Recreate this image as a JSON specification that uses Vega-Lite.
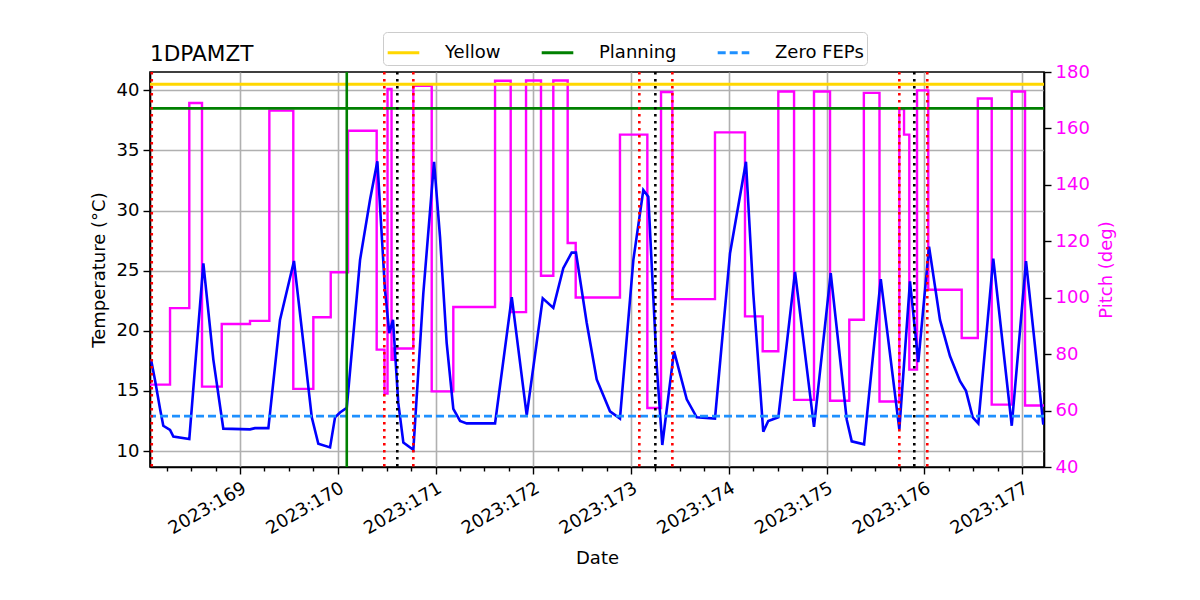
{
  "$schema": "https://vega.github.io/schema/vega-lite/v6.json",
  "autosize": {"type": "none"},
  "padding": {"left": 150, "top": 72, "right": 156, "bottom": 133},
  "width": 894,
  "height": 395,
  "title": {
    "text": "1DPAMZT",
    "anchor": "start",
    "frame": "group",
    "fontSize": 21.6,
    "fontWeight": "normal",
    "font": "DejaVu Sans",
    "color": "black",
    "offset": -34
  },
  "config": {
    "font": "DejaVu Sans",
    "view": {"stroke": "black", "strokeWidth": 1.6},
    "axis": {
      "labelFont": "DejaVu Sans",
      "titleFont": "DejaVu Sans",
      "labelFontSize": 18,
      "titleFontSize": 18,
      "titleFontWeight": "normal",
      "labelColor": "black",
      "titleColor": "black",
      "tickColor": "black",
      "tickWidth": 1.4,
      "tickSize": 7,
      "domainColor": "black",
      "domainWidth": 1.6,
      "gridColor": "#b0b0b0",
      "gridWidth": 1.6
    },
    "legend": {
      "labelFont": "DejaVu Sans",
      "labelFontSize": 18,
      "labelColor": "black"
    }
  },
  "datasets": {
    "temp": [
      {"day": 168.090, "temp": 17.6},
      {"day": 168.130, "temp": 15.9},
      {"day": 168.182, "temp": 13.5},
      {"day": 168.215, "temp": 12.1},
      {"day": 168.284, "temp": 11.75},
      {"day": 168.318, "temp": 11.2},
      {"day": 168.481, "temp": 11.0},
      {"day": 168.625, "temp": 25.6},
      {"day": 168.727, "temp": 17.6},
      {"day": 168.829, "temp": 11.86},
      {"day": 169.102, "temp": 11.8},
      {"day": 169.153, "temp": 11.9},
      {"day": 169.290, "temp": 11.9},
      {"day": 169.409, "temp": 20.9},
      {"day": 169.552, "temp": 25.8},
      {"day": 169.648, "temp": 19.0},
      {"day": 169.734, "temp": 12.8},
      {"day": 169.801, "temp": 10.6},
      {"day": 169.921, "temp": 10.3},
      {"day": 169.972, "temp": 12.8},
      {"day": 170.023, "temp": 13.2},
      {"day": 170.092, "temp": 13.6},
      {"day": 170.228, "temp": 25.9},
      {"day": 170.330, "temp": 30.9},
      {"day": 170.405, "temp": 34.1},
      {"day": 170.483, "temp": 23.4},
      {"day": 170.527, "temp": 19.8},
      {"day": 170.565, "temp": 20.9},
      {"day": 170.619, "temp": 14.0},
      {"day": 170.671, "temp": 10.7},
      {"day": 170.773, "temp": 10.1},
      {"day": 170.875, "temp": 23.1},
      {"day": 170.985, "temp": 34.05},
      {"day": 171.046, "temp": 27.8},
      {"day": 171.114, "temp": 19.0},
      {"day": 171.182, "temp": 13.5},
      {"day": 171.251, "temp": 12.5},
      {"day": 171.319, "temp": 12.3},
      {"day": 171.609, "temp": 12.3},
      {"day": 171.780, "temp": 22.8},
      {"day": 171.933, "temp": 12.96},
      {"day": 172.097, "temp": 22.7},
      {"day": 172.205, "temp": 21.9},
      {"day": 172.307, "temp": 25.2},
      {"day": 172.393, "temp": 26.5},
      {"day": 172.437, "temp": 26.5},
      {"day": 172.547, "temp": 20.65},
      {"day": 172.649, "temp": 15.95},
      {"day": 172.785, "temp": 13.3},
      {"day": 172.887, "temp": 12.7},
      {"day": 173.024, "temp": 25.9},
      {"day": 173.126, "temp": 31.7},
      {"day": 173.177, "temp": 31.15},
      {"day": 173.263, "temp": 17.1},
      {"day": 173.320, "temp": 10.5},
      {"day": 173.440, "temp": 18.3},
      {"day": 173.570, "temp": 14.3},
      {"day": 173.672, "temp": 12.8},
      {"day": 173.859, "temp": 12.7},
      {"day": 174.013, "temp": 26.45},
      {"day": 174.176, "temp": 34.05},
      {"day": 174.251, "temp": 23.1},
      {"day": 174.353, "temp": 11.6},
      {"day": 174.404, "temp": 12.5},
      {"day": 174.507, "temp": 12.8},
      {"day": 174.678, "temp": 24.9},
      {"day": 174.872, "temp": 12.0},
      {"day": 175.043, "temp": 24.8},
      {"day": 175.207, "temp": 12.6},
      {"day": 175.258, "temp": 10.8},
      {"day": 175.384, "temp": 10.56},
      {"day": 175.555, "temp": 24.3},
      {"day": 175.745, "temp": 11.8},
      {"day": 175.854, "temp": 24.1},
      {"day": 175.939, "temp": 17.4},
      {"day": 176.049, "temp": 27.0},
      {"day": 176.161, "temp": 20.9},
      {"day": 176.263, "temp": 17.9},
      {"day": 176.366, "temp": 15.8},
      {"day": 176.427, "temp": 15.0},
      {"day": 176.496, "temp": 12.8},
      {"day": 176.553, "temp": 12.3},
      {"day": 176.706, "temp": 26.0},
      {"day": 176.895, "temp": 12.1},
      {"day": 177.041, "temp": 25.8},
      {"day": 177.218, "temp": 12.2}
    ],
    "pitch": [
      {"day": 168.079, "pitch": 69.2},
      {"day": 168.284, "pitch": 96.3},
      {"day": 168.481, "pitch": 169.0},
      {"day": 168.611, "pitch": 68.5},
      {"day": 168.813, "pitch": 90.7},
      {"day": 169.102, "pitch": 91.8},
      {"day": 169.300, "pitch": 166.3},
      {"day": 169.545, "pitch": 67.7},
      {"day": 169.750, "pitch": 93.1},
      {"day": 169.928, "pitch": 109.0},
      {"day": 170.105, "pitch": 159.2},
      {"day": 170.398, "pitch": 81.6},
      {"day": 170.478, "pitch": 66.0},
      {"day": 170.509, "pitch": 174.0},
      {"day": 170.550, "pitch": 78.0},
      {"day": 170.575, "pitch": 82.0},
      {"day": 170.773, "pitch": 175.1},
      {"day": 170.961, "pitch": 66.8},
      {"day": 171.182, "pitch": 96.7},
      {"day": 171.609, "pitch": 176.9},
      {"day": 171.769, "pitch": 94.9},
      {"day": 171.926, "pitch": 177.0},
      {"day": 172.079, "pitch": 107.8},
      {"day": 172.205, "pitch": 177.0},
      {"day": 172.352, "pitch": 119.4},
      {"day": 172.434, "pitch": 100.1},
      {"day": 172.887, "pitch": 157.8},
      {"day": 173.167, "pitch": 60.9},
      {"day": 173.307, "pitch": 172.9},
      {"day": 173.423, "pitch": 99.5},
      {"day": 173.859, "pitch": 158.6},
      {"day": 174.166, "pitch": 93.4},
      {"day": 174.347, "pitch": 81.0},
      {"day": 174.507, "pitch": 173.1},
      {"day": 174.668, "pitch": 63.8},
      {"day": 174.872, "pitch": 173.1},
      {"day": 175.036, "pitch": 63.5},
      {"day": 175.233, "pitch": 92.2},
      {"day": 175.382, "pitch": 172.6},
      {"day": 175.542, "pitch": 63.2},
      {"day": 175.745, "pitch": 166.9},
      {"day": 175.793, "pitch": 157.8},
      {"day": 175.847, "pitch": 74.5},
      {"day": 175.926, "pitch": 173.5},
      {"day": 176.041, "pitch": 102.8},
      {"day": 176.383, "pitch": 85.7},
      {"day": 176.548, "pitch": 170.6},
      {"day": 176.690, "pitch": 62.1},
      {"day": 176.895, "pitch": 173.1},
      {"day": 177.031, "pitch": 61.8},
      {"day": 177.225, "pitch": 61.8}
    ],
    "limits": [
      {"name": "Yellow", "temp": 40.5},
      {"name": "Planning", "temp": 38.5},
      {"name": "Zero FEPs", "temp": 12.9}
    ],
    "red_events": [
      {"day": 168.097},
      {"day": 170.476},
      {"day": 170.773},
      {"day": 173.085},
      {"day": 173.423},
      {"day": 175.745},
      {"day": 176.031}
    ],
    "black_events": [
      {"day": 170.609},
      {"day": 173.249},
      {"day": 175.898}
    ],
    "green_events": [
      {"day": 170.092}
    ]
  },
  "layer": [
    {
      "data": {"name": "pitch"},
      "mark": {"type": "line", "interpolate": "step-after", "color": "#ff00ff", "strokeWidth": 2.4, "clip": true},
      "encoding": {
        "x": {
          "field": "day",
          "type": "quantitative",
          "scale": {"domain": [168.079, 177.225], "nice": false, "zero": false},
          "axis": {
            "title": "Date",
            "values": [168.25, 168.5, 168.75, 169, 169.25, 169.5, 169.75, 170, 170.25, 170.5, 170.75, 171, 171.25, 171.5, 171.75, 172, 172.25, 172.5, 172.75, 173, 173.25, 173.5, 173.75, 174, 174.25, 174.5, 174.75, 175, 175.25, 175.5, 175.75, 176, 176.25, 176.5, 176.75, 177],
            "tickCount": 100,
            "labelExpr": "datum.value % 1 == 0 ? '2023:' + datum.value : ''",
            "labelAngle": -30,
            "labelAlign": "right",
            "labelBaseline": "top",
            "labelPadding": 5,
            "labelOverlap": false,
            "labelFlush": false,
            "labelBound": false,
            "titlePadding": 12,
            "grid": true,
            "gridOpacity": {"condition": {"test": "datum.value % 1 == 0", "value": 1}, "value": 0},
            "tickSize": {"condition": {"test": "datum.value % 1 == 0", "value": 7}, "value": 4}
          }
        },
        "y": {
          "field": "pitch",
          "type": "quantitative",
          "scale": {"domain": [40, 180], "nice": false, "zero": false},
          "axis": {
            "orient": "right",
            "title": "Pitch (deg)",
            "values": [40, 60, 80, 100, 120, 140, 160, 180],
            "grid": false,
            "labelColor": "#ff00ff",
            "titleColor": "#ff00ff",
            "labelPadding": 4,
            "titlePadding": 8,
            "titleAngle": 270,
            "titleBaseline": "top"
          }
        }
      }
    },
    {
      "layer": [
        {
          "data": {"name": "temp"},
          "mark": {"type": "line", "color": "#0000ff", "strokeWidth": 2.6, "clip": true},
          "encoding": {
            "x": {"field": "day", "type": "quantitative", "scale": {"domain": [168.079, 177.225], "nice": false, "zero": false}},
            "y": {
              "field": "temp",
              "type": "quantitative",
              "scale": {"domain": [8.67, 41.52], "nice": false, "zero": false},
              "axis": {
                "orient": "left",
                "title": "Temperature (°C)",
                "values": [10, 15, 20, 25, 30, 35, 40],
                "grid": true,
                "labelPadding": 4,
                "titlePadding": 8
              }
            }
          }
        },
        {
          "data": {"name": "limits"},
          "mark": {"type": "rule", "strokeWidth": 2.8},
          "encoding": {
            "y": {"field": "temp", "type": "quantitative", "scale": {"domain": [8.67, 41.52], "nice": false, "zero": false}},
            "color": {
              "field": "name",
              "type": "nominal",
              "scale": {"domain": ["Yellow", "Planning", "Zero FEPs"], "range": ["#ffd700", "#008000", "#1e90ff"]},
              "legend": {
                "title": null,
                "orient": "none",
                "legendX": 233,
                "legendY": -40,
                "direction": "horizontal",
                "symbolType": "stroke",
                "symbolSize": 1000,
                "symbolStrokeWidth": 3,
                "labelOffset": 24,
                "columnPadding": 34,
                "padding": 3,
                "strokeColor": "#cccccc",
                "fillColor": "white",
                "cornerRadius": 4
              }
            },
            "strokeDash": {
              "field": "name",
              "type": "nominal",
              "scale": {"domain": ["Yellow", "Planning", "Zero FEPs"], "range": [[1, 0], [1, 0], [8, 4]]}
            }
          }
        },
        {
          "data": {"name": "red_events"},
          "mark": {"type": "rule", "color": "#ff0000", "strokeWidth": 2.6, "strokeDash": [2.6, 4.4]},
          "encoding": {
            "x": {"field": "day", "type": "quantitative", "scale": {"domain": [168.079, 177.225], "nice": false, "zero": false}}
          }
        },
        {
          "data": {"name": "black_events"},
          "mark": {"type": "rule", "color": "#000000", "strokeWidth": 2.6, "strokeDash": [2.6, 4.4]},
          "encoding": {
            "x": {"field": "day", "type": "quantitative", "scale": {"domain": [168.079, 177.225], "nice": false, "zero": false}}
          }
        },
        {
          "data": {"name": "green_events"},
          "mark": {"type": "rule", "color": "#008000", "strokeWidth": 2.6},
          "encoding": {
            "x": {"field": "day", "type": "quantitative", "scale": {"domain": [168.079, 177.225], "nice": false, "zero": false}}
          }
        }
      ]
    }
  ],
  "resolve": {"scale": {"y": "independent"}, "axis": {"y": "independent"}}
}
